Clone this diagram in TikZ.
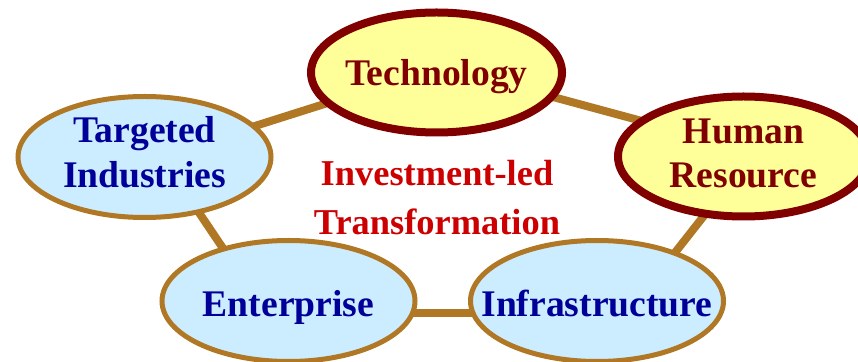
\documentclass[tikz,border=0pt]{standalone}
\usepackage{fontspec}
\setmainfont{Liberation Serif}
\usetikzlibrary{shapes.geometric,backgrounds}
\definecolor{linkgold}{HTML}{B07824}
\definecolor{bluefill}{HTML}{CCECFF}
\definecolor{yelfill}{HTML}{FFFF99}
\definecolor{darkred}{HTML}{800000}
\definecolor{textblue}{HTML}{000099}
\definecolor{centerred}{HTML}{CC0000}
\tikzset{
  ovalbase/.style={ellipse, inner xsep=-70pt, inner ysep=-30pt, align=center,
    font=\bfseries\fontsize{37.6}{44.5}\selectfont},
  bluenode/.style={ovalbase, draw=linkgold, line width=5pt, fill=bluefill,
    minimum width=253pt, minimum height=121pt, text=textblue},
  yelnode/.style={ovalbase, draw=darkred, line width=8pt, fill=yelfill,
    minimum width=251pt, minimum height=120pt, text=darkred},
  link/.style={draw=linkgold, line width=8pt},
  centertext/.style={text=centerred, align=center, inner sep=0pt,
    font=\bfseries\fontsize{36.4}{49}\selectfont}
}
\begin{document}
\begin{tikzpicture}[x=1pt,y=1pt]
\useasboundingbox (0,0) rectangle (858,361);
\node[yelnode, text height=27pt, text depth=0pt] (tech) at (436.5,288.5) {Technology};
\node[yelnode, text height=70.5pt, text depth=7.5pt] (human) at (743.5,204.5) {Human\\Resource};
\node[bluenode, text height=70.5pt, text depth=9.5pt] (target) at (144.5,204) {Targeted\\Industries};
\node[bluenode, text height=32pt, text depth=0pt] (enter) at (288.5,60) {Enterprise};
\node[bluenode, text height=32pt, text depth=0pt] (infra) at (597,60) {Infrastructure};
\node[centertext] (center) at (437,163) {Investment-led\\Transformation};
\begin{scope}[on background layer]
\draw[link] ([yshift=7pt]tech.center) -- ([yshift=8pt]human.center);
\draw[link] ([yshift=4pt]tech.center) -- ([yshift=-4pt]target.center);
\draw[link] ([xshift=17pt]target.center) -- ([xshift=-30pt]enter.center);
\draw[link] ([xshift=7pt]human.center) -- ([xshift=40pt]infra.center);
\draw[link] ([yshift=-12pt]enter.center) -- ([yshift=-12pt]infra.center);
\end{scope}
\end{tikzpicture}
\end{document}
